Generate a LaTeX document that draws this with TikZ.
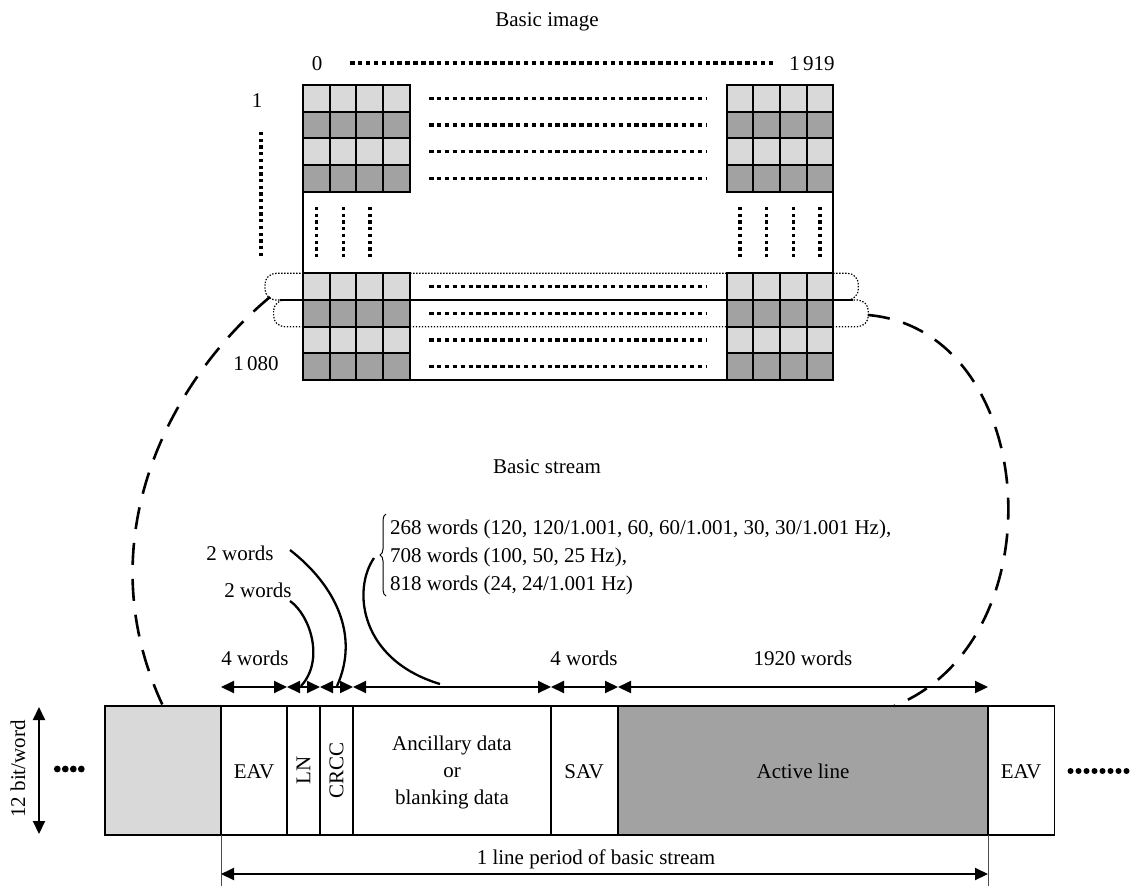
\documentclass[tikz,border=0pt]{standalone}
\usepackage{fontspec}
\setmainfont{Liberation Serif}
\usetikzlibrary{arrows.meta,decorations.pathreplacing}
\definecolor{lgray}{HTML}{D9D9D9}
\definecolor{dgray}{HTML}{A2A2A2}
\begin{document}
\begin{tikzpicture}[x=1pt,y=-1pt,
  every node/.style={font=\fontsize{21}{27}\selectfont, inner sep=0pt},
  lbl/.style={anchor=base},
  cellline/.style={draw=black, line width=1.8pt},
  barline/.style={draw=black, line width=1.4pt},
  dotrow/.style={line width=3.3pt, dash pattern=on 4.5pt off 3.4pt},
  dotcol/.style={line width=3.3pt, dash pattern=on 3.3pt off 3.4pt},
  fdot/.style={line width=1.2pt, dash pattern=on 1.4pt off 1.6pt, rounded corners=11pt},
  bigdash/.style={line width=2.6pt, dash pattern=on 22pt off 14pt},
  dimarrow/.style={line width=2pt, {Triangle[length=13pt,width=12pt]}-{Triangle[length=13pt,width=12pt]}},
  callout/.style={line width=2.3pt},
  thinline/.style={line width=0.8pt, draw=black!70}]
\useasboundingbox (0,0) rectangle (1131,886);
\fill[white] (0,0) rectangle (1131,886);

% ---------- Basic image ----------
\node[lbl] (title) at (547,27) {Basic image};
\node[lbl] (zero) at (317,70) {0};
\node[lbl] (n1919) at (812,70) {1\,919};
\node[lbl] (one) at (257,107) {1};
\node[lbl] (n1080) at (256,370) {1\,080};
\draw[dotrow] (350,63) -- (775,63);
\draw[dotcol] (261,132) -- (261,258);

% dotted rounded rows (selected lines)
\draw[fdot] (265,273.333) rectangle (858.333,300);
\draw[fdot] (273.6,300) rectangle (868.333,326.667);
\draw[line width=2pt] (279.5,300) -- (853,300);

% image outline
\draw[cellline] (303,191.667) -- (303,273.333);
\draw[cellline] (833.333,191.667) -- (833.333,273.333);
\draw[cellline] (410,380) -- (726.667,380);

% pixel blocks
\foreach \bx in {303,726.667}
  \foreach \by in {85,273.333}
    \foreach \r/\col in {0/lgray,1/dgray,2/lgray,3/dgray}
      \foreach \c in {0,1,2,3}
        \draw[cellline, fill=\col] ({\bx+\c*26.667},{\by+\r*26.667}) rectangle +(26.667,26.667);

% row dots
\foreach \y in {98.333,125,151.667,178.333,286.667,313.333,340,366.667}
  \draw[dotrow] (429,\y) -- (706,\y);
% column dots
\foreach \x in {316.667,343.333,370,740,766.667,793.333,820}
  \draw[dotcol] (\x,207) -- (\x,260);

% ---------- Basic stream ----------
\node[lbl] (bstream) at (547,473) {Basic stream};
\node[lbl, anchor=base west] (l268) at (390,534) {268 words (120, 120/1.001, 60, 60/1.001, 30, 30/1.001 Hz),};
\node[lbl, anchor=base west] (l708) at (390,562) {708 words (100, 50, 25 Hz),};
\node[lbl, anchor=base west] (l818) at (390,590) {818 words (24, 24/1.001 Hz)};
\draw[line width=1pt, decorate, decoration={brace, amplitude=6pt}] (386,596) -- (386,514);

\node[lbl] (w2a) at (240,560) {2 words};
\node[lbl] (w2b) at (258,597) {2 words};
\node[lbl] (w4a) at (255,665) {4 words};
\node[lbl] (w4b) at (584,665) {4 words};
\node[lbl] (w1920) at (803,665) {1920 words};

% bar
\draw[barline, fill=lgray] (105,706) rectangle (221,835);
\draw[barline] (221,706) rectangle (287,835);
\draw[barline] (287,706) rectangle (320,835);
\draw[barline] (320,706) rectangle (353,835);
\draw[barline] (353,706) rectangle (551,835);
\draw[barline] (551,706) rectangle (618,835);
\draw[barline, fill=dgray] (618,706) rectangle (988,835);
\draw[barline] (988,706) rectangle (1054.5,835);

\node[lbl] (eav1) at (254,778) {EAV};
\node[rotate=90] (ln) at (303.5,770) {LN};
\node[rotate=90] (crcc) at (336.5,770) {CRCC};
\node[align=center] (anc) at (452,772) {Ancillary data\\or\\blanking data};
\node[lbl] (sav) at (584,778) {SAV};
\node[lbl] (act) at (803,778) {Active line};
\node[lbl] (eav2) at (1021,778) {EAV};

% dimension arrows
\foreach \a/\b in {221/287,287/320,320/353,353/551,551/618,618/988}
  \draw[dimarrow] (\a,687) -- (\b,687);

% callout curves
\coordinate (cA0) at (290,601); \coordinate (cA1) at (301,686);
\coordinate (cB0) at (290,550); \coordinate (cB1) at (337,686);
\coordinate (cC0) at (374,558); \coordinate (cC1) at (440,684);
\draw[callout] (cA0) .. controls (310,615) and (325,660) .. (cA1);
\draw[callout] (cB0) .. controls (335,585) and (360,635) .. (cB1);
\draw[callout] (cC0) .. controls (352,590) and (360,660) .. (cC1);

% big dashed curves
\coordinate (sL) at (270,297); \coordinate (eL) at (163,706);
\coordinate (sR) at (868,315); \coordinate (eR) at (894,706);
\draw[bigdash] (sL) .. controls (170,380) and (85,540) .. (eL);
\draw[bigdash] (sR) .. controls (1040,330) and (1060,640) .. (eR);

% side dots
\foreach \x in {57.3,65.3,73.3,81.3} \fill (\x,769) circle (3.4pt);
\foreach \k in {0,...,7} \fill ({1070.5+8*\k},771) circle (3pt);

% 12 bit/word
\node[rotate=90] (bits) at (18,769) {12 bit/word};
\draw[dimarrow] (39,707) -- (39,834);

% line period
\draw[thinline] (221,835) -- (221,886);
\draw[thinline] (988,835) -- (988,886);
\draw[dimarrow] (221,874) -- (988,874);
\node[lbl] (period) at (596,864) {1 line period of basic stream};
\end{tikzpicture}
\end{document}
